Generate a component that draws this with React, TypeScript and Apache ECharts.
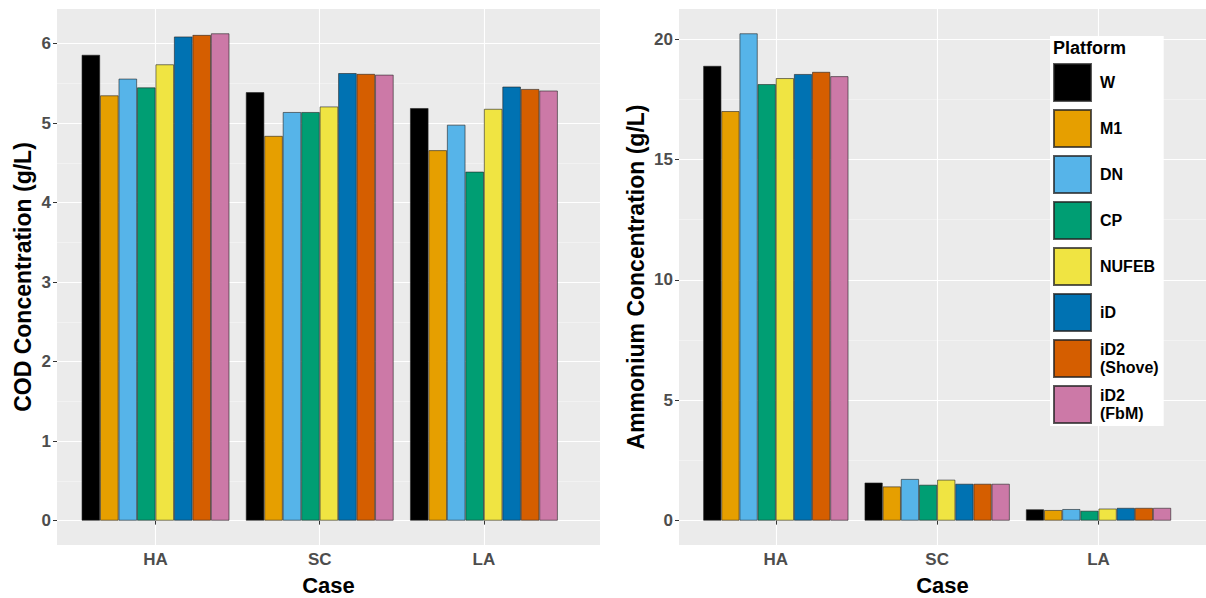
import React, { useEffect, useRef } from "react";
import * as echarts from "echarts";

const categories = ["HA", "SC", "LA"];
const platforms = ["W", "M1", "DN", "CP", "NUFEB", "iD", "iD2\n(Shove)", "iD2\n(FbM)"];
const platformColors = ["#000000", "#E69F00", "#56B4E9", "#009E73", "#F0E442", "#0072B2", "#D55E00", "#CC79A7"];

// COD concentration (g/L) per case, in platform order
const codHA = [5.86, 5.35, 5.56, 5.45, 5.74, 6.09, 6.11, 6.13];
const codSC = [5.39, 4.84, 5.14, 5.14, 5.21, 5.63, 5.62, 5.61];
const codLA = [5.19, 4.66, 4.98, 4.39, 5.18, 5.46, 5.43, 5.41];

// Ammonium concentration (g/L) per case, in platform order
const ammHA = [18.89, 17.01, 20.24, 18.13, 18.38, 18.55, 18.64, 18.46];
const ammSC = [1.58, 1.42, 1.73, 1.49, 1.7, 1.53, 1.53, 1.53];
const ammLA = [0.47, 0.44, 0.48, 0.41, 0.5, 0.53, 0.53, 0.53];

const codTicks = [0, 1, 2, 3, 4, 5, 6];
const codMinor = [0.5, 1.5, 2.5, 3.5, 4.5, 5.5];
const ammTicks = [0, 5, 10, 15, 20];
const ammMinor = [2.5, 7.5, 12.5, 17.5];
const caseTicks = [1, 2, 3];

const FONT = "Liberation Sans, Arial, sans-serif";
const PANEL = "#EBEBEB";

export default function App() {
  const ref = useRef<HTMLDivElement>(null);

  useEffect(() => {
    if (!ref.current) return;
    const chart = echarts.init(ref.current, undefined, { renderer: "svg" });

    const codMax = Math.max(...codHA, ...codSC, ...codLA);
    const ammMax = Math.max(...ammHA, ...ammSC, ...ammLA);

    const xAxisBase = (gridIndex: number, max: number) => ({
      type: "value",
      gridIndex,
      min: 0.4,
      max,
      name: "Case",
      nameLocation: "middle",
      nameGap: 29,
      nameTextStyle: { fontFamily: FONT, fontWeight: "bold", fontSize: 22, color: "#000", lineHeight: 22 },
      axisLine: { show: false },
      axisTick: { show: true, length: 4, customValues: caseTicks, lineStyle: { color: "#333333", width: 1 } },
      axisLabel: {
        customValues: caseTicks,
        margin: 6,
        fontFamily: FONT,
        fontWeight: "bold",
        fontSize: 17,
        color: "#4D4D4D",
        formatter: (v: number) => categories[Math.round(v) - 1] ?? "",
      },
      splitLine: { show: true, lineStyle: { color: "#FFFFFF", width: 1.1 } },
    });

    const yMajor = (gridIndex: number, max: number, ticks: number[], name: string, gap: number) => ({
      type: "value",
      gridIndex,
      min: -0.05 * max,
      max: 1.05 * max,
      name,
      nameLocation: "middle",
      nameRotate: 90,
      nameGap: gap,
      nameTextStyle: { fontFamily: FONT, fontWeight: "bold", fontSize: 23, color: "#000" },
      axisLine: { show: false },
      axisTick: { show: true, length: 4, customValues: ticks, lineStyle: { color: "#333333", width: 1 } },
      axisLabel: {
        customValues: ticks,
        margin: 6,
        fontFamily: FONT,
        fontWeight: "bold",
        fontSize: 17,
        color: "#4D4D4D",
      },
      splitLine: { show: true, lineStyle: { color: "#FFFFFF", width: 1.1 } },
    });

    const yMinor = (gridIndex: number, max: number, ticks: number[]) => ({
      type: "value",
      gridIndex,
      min: -0.05 * max,
      max: 1.05 * max,
      position: "left",
      axisLine: { show: false },
      axisTick: { show: false, customValues: ticks },
      axisLabel: { show: false, customValues: ticks },
      splitLine: { show: true, lineStyle: { color: "#F7F7F7", width: 0.6 } },
    });

    const series: any[] = [];
    platforms.forEach((p, i) => {
      const style = {
        color: platformColors[i],
        borderColor: "rgba(35,35,35,0.75)",
        borderWidth: 0.8,
      };
      series.push({
        type: "bar",
        name: p,
        xAxisIndex: 0,
        yAxisIndex: 0,
        barGap: "0%",
        barCategoryGap: "10%",
        itemStyle: style,
        data: [
          [1, codHA[i]],
          [2, codSC[i]],
          [3, codLA[i]],
        ],
      });
      series.push({
        type: "bar",
        name: p,
        xAxisIndex: 1,
        yAxisIndex: 2,
        barGap: "0%",
        barCategoryGap: "10%",
        itemStyle: style,
        data: [
          [1, ammHA[i]],
          [2, ammSC[i]],
          [3, ammLA[i]],
        ],
      });
    });

    chart.setOption({
      animation: false,
      backgroundColor: "#FFFFFF",
      grid: [
        { left: 57, top: 9, width: 543, height: 536, show: true, backgroundColor: PANEL, borderWidth: 0, containLabel: false, outerBoundsMode: "none" },
        { left: 679, top: 9, width: 527, height: 536, show: true, backgroundColor: PANEL, borderWidth: 0, containLabel: false, outerBoundsMode: "none" },
      ],
      xAxis: [xAxisBase(0, 3.707), xAxisBase(1, 3.666)],
      yAxis: [
        yMajor(0, codMax, codTicks, "COD Concentration (g/L)", 23),
        yMinor(0, codMax, codMinor),
        yMajor(1, ammMax, ammTicks, "Ammonium Concentration (g/L)", 32),
        yMinor(1, ammMax, ammMinor),
      ],
      legend: {
        show: true,
        orient: "vertical",
        left: 1050,
        top: 36,
        padding: [27, 5, 2, 3],
        backgroundColor: "#FFFFFF",
        icon: "rect",
        itemWidth: 37,
        itemHeight: 37,
        itemGap: 7,
        data: platforms,
        textStyle: {
          fontFamily: FONT,
          fontWeight: "bold",
          fontSize: 16,
          color: "#000",
          lineHeight: 18,
          padding: [0, 0, 0, 4],
        },
        selectedMode: false,
      },
      graphic: [
        {
          type: "text",
          left: 1053,
          top: 39,
          z: 100,
          style: {
            text: "Platform",
            fontFamily: FONT,
            fontWeight: "bold",
            fontSize: 18,
            fill: "#000",
          },
        },
      ],
      series,
    });

    return () => chart.dispose();
  }, []);

  return (
    <div
      ref={ref}
      style={{ position: "fixed", left: 0, top: 0, width: 1206, height: 598 }}
    />
  );
}
